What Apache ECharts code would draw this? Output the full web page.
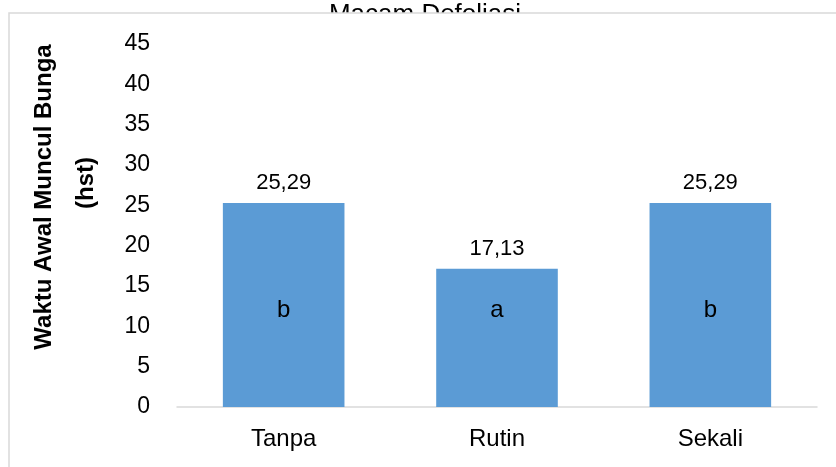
<!DOCTYPE html>
<html>
<head>
<meta charset="utf-8">
<script src="https://cdn.jsdelivr.net/npm/echarts@6/dist/echarts.min.js"></script>
<style>
  html, body { margin: 0; padding: 0; background: #fff; }
  #chart { width: 836px; height: 467px; }
</style>
</head>
<body>
<div id="chart"></div>
<script>
// Waktu awal muncul bunga per macam defoliasi
const categories = ['Tanpa', 'Rutin', 'Sekali'];
const values = [25.29, 17.13, 25.29];
const notations = ['b', 'a', 'b'];
const yTicks = { min: 0, max: 45, interval: 5 };
const titleText = 'Macam Defoliasi';
const yNameLines = ['Waktu Awal Muncul Bunga', '(hst)'];

const FONT = '"Liberation Sans", Arial, sans-serif';
const BAR_COLOR = '#5B9BD5';

const chart = echarts.init(document.getElementById('chart'));

chart.setOption({
  backgroundColor: '#fff',
  animation: false,
  grid: { left: 177, right: 19, top: 44, bottom: 60 },
  xAxis: {
    type: 'category',
    data: categories,
    axisLine: { lineStyle: { color: '#D9D9D9', width: 1.5 } },
    axisTick: { show: false },
    axisLabel: { color: '#000', fontSize: 24, fontFamily: FONT, margin: 20 }
  },
  yAxis: {
    type: 'value',
    min: yTicks.min,
    max: yTicks.max,
    interval: yTicks.interval,
    axisLine: { show: false },
    axisTick: { show: false },
    splitLine: { show: false },
    axisLabel: { color: '#000', fontSize: 23, fontFamily: FONT, margin: 27 }
  },
  graphic: {
    elements: [
      {
        type: 'text', z: -10, x: 425, y: 2,
        style: {
          text: titleText, fill: '#000', font: '26px ' + FONT,
          textAlign: 'center', textVerticalAlign: 'top'
        }
      },
      {
        type: 'rect', z: -5,
        shape: { x: 9, y: 13, width: 900, height: 500 },
        style: { fill: '#fff', stroke: '#D9D9D9', lineWidth: 1.5 }
      },
      {
        type: 'text', x: 44, y: 197, rotation: Math.PI / 2,
        style: {
          text: yNameLines[0], fill: '#000', font: 'bold 24px ' + FONT,
          textAlign: 'center', textVerticalAlign: 'middle'
        }
      },
      {
        type: 'text', x: 86, y: 183, rotation: Math.PI / 2,
        style: {
          text: yNameLines[1], fill: '#000', font: 'bold 24px ' + FONT,
          textAlign: 'center', textVerticalAlign: 'middle'
        }
      }
    ]
  },
  series: [
    {
      type: 'bar',
      data: values,
      barWidth: '57%',
      itemStyle: { color: BAR_COLOR },
      label: {
        show: true,
        position: 'top',
        distance: 9,
        color: '#000',
        fontSize: 22,
        fontFamily: FONT,
        formatter: p => p.value.toFixed(2).replace('.', ',')
      }
    },
    {
      // significance letters, placed at a common height inside each bar
      type: 'bar',
      data: values,
      barWidth: '57%',
      barGap: '-100%',
      silent: true,
      itemStyle: { color: 'rgba(0,0,0,0)' },
      label: {
        show: true,
        position: 'insideBottom',
        distance: 85,
        color: '#000',
        fontSize: 24,
        lineHeight: 24,
        fontFamily: FONT,
        formatter: p => notations[p.dataIndex]
      }
    }
  ]
});
</script>
</body>
</html>
